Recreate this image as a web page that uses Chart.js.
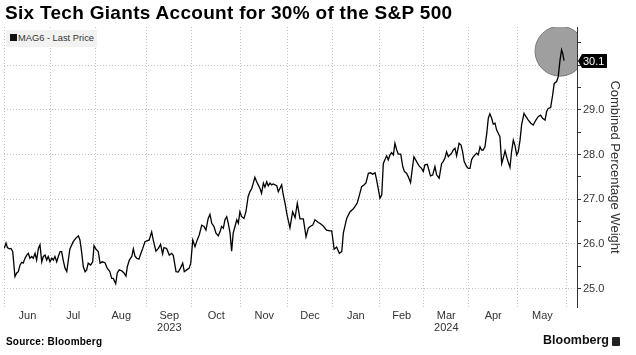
<!DOCTYPE html>
<html><head><meta charset="utf-8">
<script src="https://cdn.jsdelivr.net/npm/chart.js@4"></script>
<style>
html,body{margin:0;padding:0;background:#fff;}
#wrap{position:relative;width:636px;height:355px;overflow:hidden;font-family:"Liberation Sans",Arial,sans-serif;background:#fff;}
canvas{position:absolute;left:0;top:0;}
#title{position:absolute;left:5px;top:2px;font-size:19px;font-weight:bold;color:#000;white-space:nowrap;letter-spacing:0.3px;}
#legend{position:absolute;left:6px;top:30px;width:91px;height:17px;background:#f2f2f2;font-size:9.3px;color:#333;line-height:17px;white-space:nowrap;}
#legend span.sq{display:inline-block;width:7px;height:7px;background:#111;margin:0 1px 0 4px;vertical-align:0px;}
#source{position:absolute;left:6px;top:336px;font-size:10px;font-weight:bold;color:#000;letter-spacing:0.2px;}
#brand{position:absolute;left:543px;top:333px;font-size:12.5px;font-weight:bold;color:#111;}
#logo{position:absolute;left:612px;top:337px;width:8px;height:9px;background:#222;border-radius:1px;}
</style></head>
<body><div id="wrap">
<canvas id="c" width="636" height="355"></canvas>
<div id="title">Six Tech Giants Account for 30% of the S&amp;P 500</div>
<div id="legend"><span class="sq"></span>MAG6 - Last Price</div>
<div id="source">Source: Bloomberg</div>
<div id="brand">Bloomberg</div><div id="logo"></div>
</div>
<script>
// Trading-day index since 1 Jun 2023
const tradingDay = [
0.1,0.9,1.5,2.4,3.1,3.9,4.9,5.7,6.4,7.2,7.9,8.6,9.4,10.2,10.9,11.6,12.4,13.1,13.9,14.6,15.4,16.1,16.9,17.6,18.4,19.1,19.8,20.6,21.4,22.1,22.8,23.6,24.3,25.1,25.8,26.5,27.3,28.1,28.8,29.5,
31.0,32.2,33.3,34.0,34.8,35.5,36.3,37.0,37.7,38.8,39.7,40.3,41.2,42.2,43.0,44.0,45.2,46.2,47.4,48.2,48.9,50.0,50.7,51.6,52.7,53.7,54.6,55.2,56.1,57.2,57.9,58.6,59.4,60.4,61.3,62.1,63.1,
64.0,65.0,66.1,66.8,68.0,69.1,70.1,71.0,71.6,72.8,74.0,75.1,75.8,77.0,78.0,79.1,80.0,80.7,81.8,82.9,83.6,84.5,85.5,86.5,87.4,88.5,89.5,90.4,91.4,92.2,
93.0,94.0,94.9,95.9,96.7,97.4,98.2,98.9,99.7,100.4,101.2,101.9,102.6,103.4,104.2,104.9,105.6,106.4,107.4,108.3,109.3,110.1,110.9,111.6,112.3,113.1,113.8,114.6,115.3,116.1,116.8,117.6,118.3,119.1,119.8,120.5,122.1,122.8,123.5,124.3,125.0,125.8,126.7,128.0,129.2,130.3,131.3,132.5,134.0,135.2,136.2,137.0,138.2,139.2,140.7,141.7,142.9,144.4,145.9,146.7,147.8,148.9,150.1,151.2,151.9,153.4,154.9,156.3,158.1,
159.3,160.1,161.1,162.0,163.1,164.1,165.0,166.1,166.8,167.5,168.3,169.1,169.8,170.5,171.3,172.0,172.8,173.5,174.3,175.0,175.8,176.5,177.6,178.5,179.2,180.2,181.0,182.0,182.9,183.5,184.7,185.9,186.9,187.7,188.4,189.5,
190.9,191.9,192.9,193.7,194.8,195.9,196.6,197.4,198.1,198.9,199.6,200.4,201.1,201.9,202.6,203.7,204.6,205.3,206.0,207.1,207.8,208.6,209.3,210.1,210.8,211.6,212.3,213.1,213.8,214.5,215.3,216.1,216.8,217.5,218.3,219.0,219.8,220.5,221.3,222.0,
222.8,223.5,224.3,225.0,225.7,226.5,227.2,228.0,228.7,229.5,230.2,231.0,231.7,232.8,233.6,234.7,235.8,236.9,238.1,239.2,240.2,241.1,242.2,242.9,243.6,244.7,245.6,246.3,247.4,248.1,248.9,249.6,250.1,250.7
];
// Combined percentage weight of MAG6 in the S&P 500
const weight = [
25.90,26.02,25.92,25.89,25.90,25.83,25.27,25.35,25.38,25.53,25.59,25.57,25.68,25.75,25.79,25.68,25.72,25.68,25.79,25.64,25.90,25.98,25.60,25.72,25.75,25.64,25.72,25.60,25.68,25.64,25.72,25.60,25.72,25.83,25.83,25.64,25.46,25.38,25.64,25.89,
26.05,26.13,26.18,26.09,25.80,25.49,25.38,25.42,25.57,25.53,25.60,25.96,25.88,25.83,25.57,25.60,25.58,25.46,25.38,25.23,25.23,25.11,25.35,25.42,25.40,25.35,25.28,25.49,25.64,25.72,25.89,25.73,25.68,25.66,25.79,25.90,26.05,
26.07,26.09,26.27,26.09,25.84,25.90,25.99,25.78,25.92,25.90,25.75,25.79,25.74,25.38,25.37,25.47,25.57,25.38,25.42,25.46,25.57,26.09,25.94,26.09,26.20,26.42,26.39,26.31,26.57,26.66,
26.46,26.39,26.24,26.18,26.27,26.39,26.35,26.54,26.61,26.46,26.24,25.84,26.24,26.39,26.54,26.46,26.72,26.61,26.57,26.72,27.06,27.17,27.24,27.36,27.49,27.39,27.32,27.24,27.13,27.36,27.27,27.39,27.30,27.36,27.32,27.34,27.30,27.17,27.24,27.32,27.10,26.91,26.65,26.36,26.72,26.59,26.91,26.56,26.56,26.16,26.35,26.39,26.42,26.54,26.48,26.45,26.40,26.31,26.29,26.29,25.88,25.93,25.79,25.83,26.24,26.57,26.72,26.78,26.91,
27.13,27.28,27.32,27.36,27.58,27.59,27.56,27.59,27.43,27.24,27.02,27.10,27.80,27.88,27.97,27.88,27.99,28.04,27.99,28.25,28.10,28.01,28.01,27.73,27.62,27.58,27.50,27.37,27.73,27.95,27.84,27.74,27.69,27.62,27.77,27.78,
27.52,27.54,27.73,27.54,27.47,27.80,27.84,27.92,28.06,27.95,27.99,28.03,28.10,28.14,27.97,28.25,28.21,28.06,27.84,27.73,27.69,27.69,27.88,27.95,27.99,28.03,27.99,28.17,28.10,28.10,28.17,28.47,28.81,28.91,28.81,28.68,28.70,28.55,28.47,28.40,
27.80,27.92,28.08,27.95,27.83,27.71,28.06,28.32,28.21,27.99,28.06,28.32,28.66,28.92,28.85,28.77,28.70,28.66,28.77,28.85,28.88,28.81,28.77,28.96,29.03,29.05,29.33,29.59,29.63,29.74,30.11,30.34,30.26,30.10
];
// Month boundaries (trading-day index) and labels
const monthStarts = [0,21,41,64,84,106,127,147,168,188,208,230,252];
const monthLabels = [['Jun'],['Jul'],['Aug'],['Sep','2023'],['Oct'],['Nov'],['Dec'],['Jan'],['Feb'],['Mar','2024'],['Apr'],['May']];
const yTickValues = [25,25.5,26,26.5,27,27.5,28,28.5,29,29.5,30,30.5];
const highlightPoint = {x: 248.9, y: 30.31};

const monthMids = monthLabels.map((l,i)=> (monthStarts[i]+monthStarts[i+1])/2);
const isStart = v => monthStarts.indexOf(v) !== -1;

const decor = {
  id:'decor',
  beforeDatasetsDraw(chart){
    const {ctx, chartArea:a, scales:{x,y}} = chart;
    ctx.save();
    ctx.beginPath(); ctx.rect(a.left,a.top,a.right-a.left,a.bottom-a.top); ctx.clip();
    ctx.beginPath();
    ctx.arc(x.getPixelForValue(highlightPoint.x), y.getPixelForValue(highlightPoint.y), 25, 0, Math.PI*2);
    ctx.fillStyle = '#9f9f9f'; ctx.fill();
    ctx.lineWidth = 1; ctx.strokeStyle = '#7a7a7a'; ctx.stroke();
    ctx.restore();
  },
  afterDraw(chart){
    const {ctx, chartArea:a, scales:{y}} = chart;
    const last = weight[weight.length-1];
    const py = Math.round(y.getPixelForValue(last));
    const x0 = a.right + 1, h = 14;
    ctx.save();
    ctx.fillStyle = '#000';
    ctx.beginPath();
    ctx.moveTo(x0, py);
    ctx.lineTo(x0+4, py-h/2);
    ctx.lineTo(x0+29, py-h/2);
    ctx.lineTo(x0+29, py+h/2);
    ctx.lineTo(x0+4, py+h/2);
    ctx.closePath(); ctx.fill();
    ctx.fillStyle = '#fff';
    ctx.font = '11px "Liberation Sans", Arial, sans-serif';
    ctx.textBaseline = 'middle'; ctx.textAlign = 'left';
    ctx.fillText(last.toFixed(1), x0+5, py+0.5);
    ctx.restore();
  }
};

new Chart(document.getElementById('c'), {
  type:'line',
  data:{ datasets:[{
    label:'MAG6 - Last Price',
    data: tradingDay.map((d,i)=>({x:d, y:weight[i]})),
    borderColor:'#000', borderWidth:1.3, pointRadius:0, tension:0, fill:false
  }]},
  options:{
    responsive:false, animation:false, devicePixelRatio:1,
    layout:{padding:{top:27,left:4,right:0,bottom:0}},
    plugins:{legend:{display:false}, tooltip:{enabled:false}, title:{display:false}},
    scales:{
      x:{
        type:'linear', min:0, max:256.5,
        afterBuildTicks(s){
          s.ticks = monthStarts.concat(monthMids).sort((a,b)=>a-b).map(v=>({value:v}));
        },
        afterFit(s){ s.height = 48; },
        ticks:{
          autoSkip:false, maxRotation:0, padding:3, color:'#333',
          font:{family:'"Liberation Sans", Arial, sans-serif', size:11, lineHeight:1.1},
          callback(v){ const i = monthMids.indexOf(v); return i>=0 ? monthLabels[i] : ''; }
        },
        grid:{
          drawTicks:false,
          color: c => (c.tick && isStart(c.tick.value)) ? '#c4c4c4' : 'rgba(0,0,0,0)',
          lineWidth:1
        },
        border:{display:false, dash:[1,2]}
      },
      y:{
        type:'linear', position:'right', min:24.59, max:30.85,
        afterBuildTicks(s){ s.ticks = yTickValues.map(v=>({value:v})); },
        afterFit(s){ s.width = 59; },
        ticks:{
          padding:2, color:'#333',
          font:{family:'"Liberation Sans", Arial, sans-serif', size:11},
          callback(v){ return Number.isInteger(v) ? v.toFixed(1) : ''; }
        },
        grid:{
          tickLength:4, tickColor:'#333', tickWidth:1,
          color: c => (c.tick && Number.isInteger(c.tick.value)) ? '#c4c4c4' : 'rgba(0,0,0,0)'
        },
        border:{display:true, color:'#333', width:1, dash:[1,2]},
        title:{display:true, text:'Combined Percentage Weight', color:'#333',
          font:{family:'"Liberation Sans", Arial, sans-serif', size:13}, padding:{top:14,bottom:0}}
      }
    }
  },
  plugins:[decor]
});
</script>
</body></html>
